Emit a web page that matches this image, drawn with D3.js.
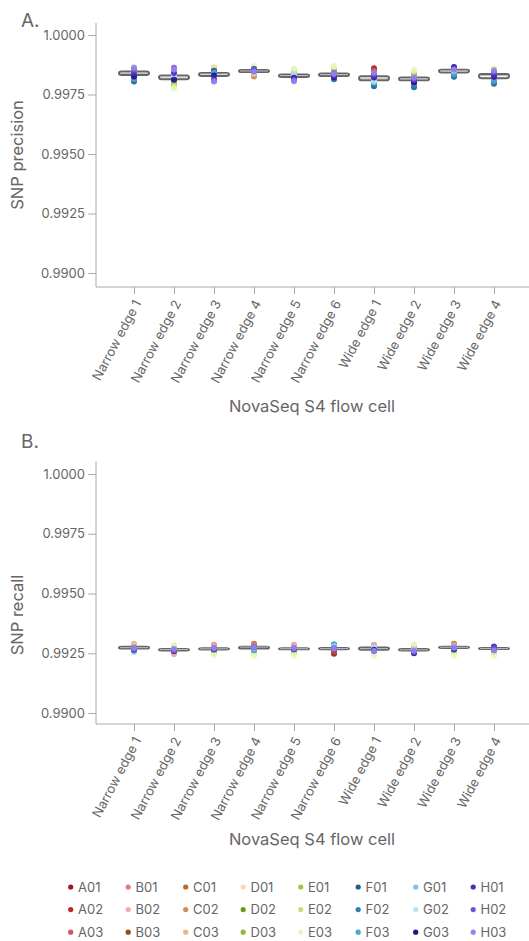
<!DOCTYPE html>
<html><head><meta charset="utf-8">
<script src="https://cdn.jsdelivr.net/npm/d3@7"></script>
<style>body{margin:0;background:#fff}svg{display:block}text{font-family:Inter,"Noto Sans",sans-serif}</style>
</head><body><svg id="c" width="529" height="941"></svg>
<script>
const lanes = ["Narrow edge 1","Narrow edge 2","Narrow edge 3","Narrow edge 4","Narrow edge 5","Narrow edge 6","Wide edge 1","Wide edge 2","Wide edge 3","Wide edge 4"];
const samples = ["A01","A02","A03","B01","B02","B03","C01","C02","C03","D01","D02","D03","E01","E02","E03","F01","F02","F03","G01","G02","G03","H01","H02","H03"];
const sampleColors = ["#a01520","#c0272d","#d9545a","#e8777e","#f7aaa8","#9a4a0c","#b8682a","#d38d54","#ecb487","#fdd8b0","#6a990f","#90b83a","#9cc940","#c3e27a","#e5f8b8","#17618f","#2b80b6","#4fa3d4","#7cc1ea","#b7e3fb","#25108f","#4a2fb0","#6f55d6","#9882ee"];
const yTicks = [0.99, 0.9925, 0.995, 0.9975, 1.0];

const precisionNE1 = [.99838,.99833,.99841,.99835,.99840,.99830,.99837,.99832,.99844,.99846,.99828,.99834,.99850,.99858,.99868,.99805,.99820,.99815,.99848,.99843,.99826,.99839,.99855,.99862];
const precisionNE2 = [.99826,.99822,.99829,.99824,.99831,.99819,.99827,.99820,.99830,.99833,.99805,.99790,.99800,.99785,.99776,.99815,.99823,.99818,.99835,.99828,.99812,.99840,.99862,.99855];
const precisionNE3 = [.99862,.99858,.99852,.99837,.99838,.99838,.99831,.99822,.99832,.99833,.99836,.99834,.99836,.99839,.99864,.99850,.99840,.99841,.99815,.99820,.99830,.99812,.99808,.99805];
const precisionNE4 = [.99850,.99847,.99852,.99848,.99845,.99843,.99830,.99826,.99835,.99845,.99849,.99851,.99853,.99860,.99870,.99856,.99858,.99854,.99844,.99840,.99852,.99849,.99855,.99846];
const precisionNE5 = [.99830,.99828,.99826,.99815,.99812,.99831,.99829,.99825,.99833,.99835,.99838,.99840,.99842,.99850,.99858,.99827,.99832,.99830,.99826,.99834,.99820,.99818,.99810,.99806];
const precisionNE6 = [.99834,.99830,.99828,.99822,.99818,.99833,.99831,.99829,.99835,.99837,.99846,.99850,.99852,.99860,.99870,.99814,.99826,.99832,.99836,.99838,.99824,.99827,.99840,.99836];
const precisionWE1 = [.99860,.99855,.99850,.99830,.99826,.99822,.99819,.99816,.99814,.99812,.99820,.99818,.99810,.99806,.99815,.99785,.99795,.99800,.99803,.99808,.99821,.99824,.99835,.99842];
const precisionWE2 = [.99810,.99805,.99812,.99820,.99818,.99808,.99815,.99813,.99817,.99822,.99830,.99838,.99835,.99845,.99853,.99780,.99790,.99797,.99814,.99819,.99800,.99811,.99816,.99821];
const precisionWE3 = [.99848,.99845,.99850,.99847,.99852,.99843,.99840,.99838,.99842,.99849,.99851,.99846,.99853,.99857,.99862,.99825,.99832,.99836,.99855,.99850,.99866,.99860,.99856,.99854];
const precisionWE4 = [.99822,.99819,.99816,.99812,.99815,.99826,.99828,.99830,.99832,.99834,.99836,.99838,.99840,.99850,.99860,.99795,.99803,.99808,.99833,.99829,.99825,.99831,.99845,.99852];

const recallNE1 = [.99277,.99276,.99278,.99286,.99290,.99275,.99277,.99274,.99279,.99280,.99273,.99275,.99276,.99272,.99270,.99268,.99271,.99262,.99256,.99266,.99265,.99270,.99268,.99272];
const recallNE2 = [.99266,.99264,.99262,.99252,.99246,.99265,.99266,.99263,.99267,.99268,.99270,.99275,.99278,.99280,.99283,.99262,.99265,.99264,.99266,.99267,.99260,.99258,.99262,.99268];
const recallNE3 = [.99256,.99258,.99282,.99285,.99280,.99268,.99270,.99268,.99271,.99269,.99266,.99267,.99262,.99252,.99243,.99266,.99270,.99273,.99269,.99271,.99268,.99267,.99270,.99272];
const recallNE4 = [.99277,.99276,.99278,.99275,.99277,.99286,.99290,.99288,.99279,.99276,.99274,.99273,.99262,.99252,.99240,.99268,.99265,.99263,.99270,.99274,.99277,.99275,.99278,.99276];
const recallNE5 = [.99270,.99268,.99272,.99285,.99282,.99269,.99270,.99268,.99271,.99266,.99262,.99260,.99258,.99250,.99240,.99269,.99267,.99270,.99272,.99271,.99268,.99269,.99267,.99273];
const recallNE6 = [.99248,.99252,.99258,.99262,.99266,.99260,.99270,.99268,.99271,.99272,.99269,.99267,.99270,.99268,.99272,.99285,.99282,.99288,.99280,.99276,.99268,.99270,.99271,.99269];
const recallWE1 = [.99278,.99280,.99284,.99283,.99286,.99270,.99269,.99271,.99268,.99270,.99267,.99266,.99262,.99255,.99240,.99268,.99270,.99272,.99276,.99274,.99265,.99262,.99260,.99258];
const recallWE2 = [.99262,.99260,.99258,.99265,.99263,.99264,.99266,.99265,.99267,.99270,.99275,.99280,.99278,.99285,.99288,.99263,.99262,.99264,.99266,.99265,.99250,.99254,.99256,.99262];
const recallWE3 = [.99277,.99275,.99278,.99276,.99279,.99284,.99290,.99288,.99282,.99276,.99274,.99272,.99266,.99255,.99240,.99275,.99277,.99274,.99276,.99275,.99266,.99268,.99272,.99274];
const recallWE4 = [.99272,.99270,.99273,.99271,.99274,.99269,.99272,.99270,.99271,.99273,.99270,.99268,.99262,.99252,.99240,.99270,.99272,.99269,.99274,.99273,.99266,.99278,.99268,.99262];

const precisionByLane = [precisionNE1,precisionNE2,precisionNE3,precisionNE4,precisionNE5,precisionNE6,precisionWE1,precisionWE2,precisionWE3,precisionWE4];
const recallByLane = [recallNE1,recallNE2,recallNE3,recallNE4,recallNE5,recallNE6,recallWE1,recallWE2,recallWE3,recallWE4];

const svg = d3.select("#c");
const TEXT = "#666", AXIS = "#aaa";
const x = d3.scalePoint().domain(lanes).range([134, 494]);
const color = d3.scaleOrdinal().domain(samples).range(sampleColors);

function panel(cfg) {
  const g = svg.append("g");
  const y = d3.scaleLinear().domain([0.99, 1.0]).range([cfg.y99, cfg.y100]);
  g.append("text").attr("x", 21).attr("y", cfg.letterY).attr("font-size", 19).attr("fill", TEXT).text(cfg.letter);
  const ya = g.append("g").attr("transform", "translate(96,0)")
    .call(d3.axisLeft(y).tickValues(yTicks).tickFormat(d3.format(".4f")).tickSize(8).tickPadding(3));
  ya.select(".domain").remove();
  ya.selectAll("line").attr("stroke", AXIS);
  ya.selectAll("text").attr("fill", TEXT).attr("font-size", 13).attr("font-family", "Inter");
  g.append("line").attr("x1", 96).attr("x2", 96).attr("y1", cfg.top).attr("y2", cfg.bottom).attr("stroke", AXIS);
  const xa = g.append("g").attr("transform", `translate(0,${cfg.bottom})`)
    .call(d3.axisBottom(x).tickSize(7));
  xa.select(".domain").remove();
  xa.selectAll("line").attr("stroke", AXIS);
  xa.selectAll("text").attr("fill", TEXT).attr("font-size", 13).attr("font-family", "Inter")
    .attr("text-anchor", "end").attr("x", 0).attr("y", 0).attr("dy", "0.35em")
    .attr("transform", "translate(3,14) rotate(-62)");
  g.append("line").attr("x1", 96).attr("x2", 529).attr("y1", cfg.bottom).attr("y2", cfg.bottom).attr("stroke", AXIS);
  g.append("text").attr("x", 312).attr("y", cfg.xTitleY).attr("text-anchor", "middle").attr("font-size", 16.5).attr("fill", TEXT).text("NovaSeq S4 flow cell");
  g.append("text").attr("transform", `translate(23,${cfg.yTitleC}) rotate(-90)`).attr("text-anchor", "middle").attr("font-size", 16.5).attr("fill", TEXT).text(cfg.yTitle);
  const bw = 30;
  cfg.data.forEach((vals, i) => {
    const s = vals.slice().sort(d3.ascending);
    const q1 = d3.quantile(s, 0.25), q2 = d3.quantile(s, 0.5), q3 = d3.quantile(s, 0.75);
    const iqr = q3 - q1;
    const lo = d3.min(s.filter(v => v >= q1 - 1.5 * iqr)), hi = d3.max(s.filter(v => v <= q3 + 1.5 * iqr));
    const cx = x(lanes[i]);
    g.append("line").attr("x1", cx).attr("x2", cx).attr("y1", y(lo)).attr("y2", y(hi)).attr("stroke", "#666").attr("stroke-width", 1);
    g.append("rect").attr("x", cx - bw / 2).attr("y", y(q3)).attr("width", bw).attr("height", Math.max(0.5, y(q1) - y(q3)))
      .attr("rx", 2.5).attr("fill", "#fafafa").attr("stroke", "#666").attr("stroke-width", 2);
    g.append("line").attr("x1", cx - bw / 2 + 1).attr("x2", cx + bw / 2 - 1).attr("y1", y(q2)).attr("y2", y(q2)).attr("stroke", "#bbb").attr("stroke-width", 1);
    g.append("g").selectAll("circle").data(vals).join("circle")
      .attr("cx", cx).attr("cy", d => y(d)).attr("r", 3)
      .attr("fill", (d, j) => color(samples[j])).attr("fill-opacity", 0.9);
  });
}

panel({letter: "A.", letterY: 27, top: 23, bottom: 287, y100: 35, y99: 273, xTitleY: 412, yTitle: "SNP precision", yTitleC: 155, data: precisionByLane});
panel({letter: "B.", letterY: 448, top: 461, bottom: 724, y100: 474, y99: 713, xTitleY: 845, yTitle: "SNP recall", yTitleC: 615, data: recallByLane});

const lg = svg.append("g");
samples.forEach((s, i) => {
  const col = Math.floor(i / 3), row = i % 3;
  const cx = 70.7 + col * 57.5, cy = 887 + row * 22.6;
  lg.append("circle").attr("cx", cx).attr("cy", cy).attr("r", 2.6).attr("fill", color(s));
  lg.append("text").attr("x", cx + 7.3).attr("y", cy).attr("dy", "0.35em").attr("font-size", 13).attr("fill", TEXT).text(s);
});
</script></body></html>
